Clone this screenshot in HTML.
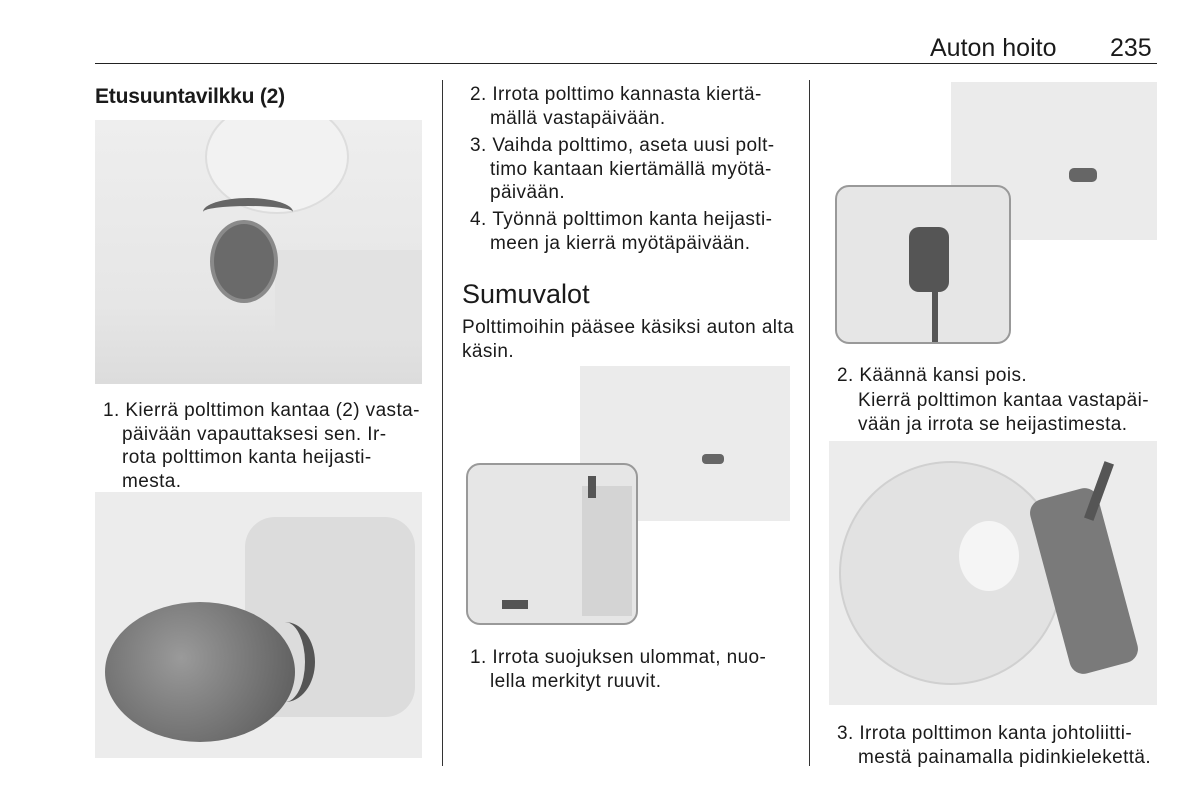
<!DOCTYPE html>
<html><head><meta charset="utf-8"><style>
body{margin:0;background:#fff;width:1200px;height:802px;position:relative;overflow:hidden;font-family:"Liberation Sans",Arial,sans-serif;color:#1a1a1a}
.a{position:absolute}
.t{position:absolute;font-size:19px;letter-spacing:0.4px;line-height:23.5px;white-space:nowrap}
.img{position:absolute;background:#ececec;overflow:hidden}
.d{background:#555}
</style></head><body>
<div class="a" style="left:930px;top:34px;font-size:25px">Auton hoito</div>
<div class="a" style="left:1110px;top:34px;font-size:25px">235</div>
<div class="a" style="left:95px;top:63px;width:1062px;height:1px;background:#222"></div>
<div class="a" style="left:442px;top:80px;width:1px;height:686px;background:#333"></div>
<div class="a" style="left:809px;top:80px;width:1px;height:686px;background:#333"></div>

<div class="a" style="left:95px;top:85px;font-size:21px;font-weight:bold;letter-spacing:-0.2px">Etusuuntavilkku (2)</div>
<div class="img" style="left:95px;top:120px;width:327px;height:264px;background:linear-gradient(180deg,#eee,#e6e6e6 70%,#dcdcdc)">
 <div class="a" style="left:110px;top:-20px;width:140px;height:110px;border-radius:50%;background:#f2f2f2;border:2px solid #ddd"></div>
 <div class="a" style="left:180px;top:130px;width:150px;height:90px;background:#e2e2e2"></div>
 <div class="a" style="left:115px;top:100px;width:60px;height:75px;border-radius:50%;background:#6a6a6a;border:4px solid #8a8a8a"></div>
 <div class="a" style="left:108px;top:78px;width:90px;height:20px;border-top:8px solid #666;border-radius:50% 50% 0 0"></div>
</div>
<div class="t" style="left:103px;top:399px">1.&nbsp;Kierrä polttimon kantaa (2) vasta‐</div>
<div class="t" style="left:122px;top:422.5px">päivään vapauttaksesi sen. Ir‐</div>
<div class="t" style="left:122px;top:446px">rota polttimon kanta heijasti‐</div>
<div class="t" style="left:122px;top:469.5px">mesta.</div>
<div class="img" style="left:95px;top:492px;width:327px;height:266px;background:#ececec">
 <div class="a" style="left:150px;top:25px;width:170px;height:200px;background:#dcdcdc;border-radius:30px"></div>
 <div class="a" style="left:10px;top:110px;width:190px;height:140px;border-radius:50%;background:radial-gradient(circle at 40% 40%,#9a9a9a,#555)"></div>
 <div class="a" style="left:160px;top:130px;width:50px;height:80px;border-right:10px solid #555;border-radius:0 50% 50% 0"></div>
</div>

<div class="t" style="left:470px;top:83px">2.&nbsp;Irrota polttimo kannasta kiertä‐</div>
<div class="t" style="left:490px;top:106.5px">mällä vastapäivään.</div>
<div class="t" style="left:470px;top:134px">3.&nbsp;Vaihda polttimo, aseta uusi polt‐</div>
<div class="t" style="left:490px;top:157.5px">timo kantaan kiertämällä myötä‐</div>
<div class="t" style="left:490px;top:181px">päivään.</div>
<div class="t" style="left:470px;top:208px">4.&nbsp;Työnnä polttimon kanta heijasti‐</div>
<div class="t" style="left:490px;top:231.5px">meen ja kierrä myötäpäivään.</div>
<div class="a" style="left:462px;top:279px;font-size:27px">Sumuvalot</div>
<div class="t" style="left:462px;top:316px">Polttimoihin pääsee käsiksi auton alta</div>
<div class="t" style="left:462px;top:339.5px">käsin.</div>
<div class="img" style="left:462px;top:366px;width:328px;height:260px;background:#fff">
 <div class="a" style="left:118px;top:0;width:210px;height:155px;background:#ebebeb"></div>
 <div class="a" style="left:240px;top:88px;width:22px;height:10px;background:#666;border-radius:4px"></div>
 <div class="a" style="left:4px;top:97px;width:168px;height:158px;background:#e6e6e6;border:2px solid #999;border-radius:14px"></div>
 <div class="a" style="left:120px;top:120px;width:50px;height:130px;background:#d4d4d4"></div>
 <div class="a d" style="left:126px;top:110px;width:8px;height:22px"></div>
 <div class="a d" style="left:40px;top:234px;width:26px;height:9px"></div>
</div>
<div class="t" style="left:470px;top:646px">1.&nbsp;Irrota suojuksen ulommat, nuo‐</div>
<div class="t" style="left:490px;top:669.5px">lella merkityt ruuvit.</div>

<div class="img" style="left:829px;top:82px;width:328px;height:263px;background:#fff">
 <div class="a" style="left:122px;top:0;width:206px;height:158px;background:#ebebeb"></div>
 <div class="a" style="left:240px;top:86px;width:28px;height:14px;background:#666;border-radius:5px"></div>
 <div class="a" style="left:6px;top:103px;width:172px;height:155px;background:#e6e6e6;border:2px solid #999;border-radius:14px"></div>
 <div class="a" style="left:80px;top:145px;width:40px;height:65px;background:#555;border-radius:10px"></div>
 <div class="a d" style="left:103px;top:205px;width:6px;height:55px"></div>
</div>
<div class="t" style="left:837px;top:364px">2.&nbsp;Käännä kansi pois.</div>
<div class="t" style="left:858px;top:389px">Kierrä polttimon kantaa vastapäi‐</div>
<div class="t" style="left:858px;top:412.5px">vään ja irrota se heijastimesta.</div>
<div class="img" style="left:829px;top:441px;width:328px;height:264px;background:#ececec">
 <div class="a" style="left:10px;top:20px;width:220px;height:220px;border-radius:50%;background:#e2e2e2;border:2px solid #d0d0d0"></div>
 <div class="a" style="left:130px;top:80px;width:60px;height:70px;border-radius:50%;background:#f5f5f5"></div>
 <div class="a" style="left:220px;top:50px;width:70px;height:180px;background:#7a7a7a;border-radius:14px;transform:rotate(-15deg)"></div>
 <div class="a d" style="left:265px;top:20px;width:10px;height:60px;transform:rotate(20deg)"></div>
</div>
<div class="t" style="left:837px;top:722px">3.&nbsp;Irrota polttimon kanta johtoliitti‐</div>
<div class="t" style="left:858px;top:745.5px">mestä painamalla pidinkielekettä.</div>
</body></html>
